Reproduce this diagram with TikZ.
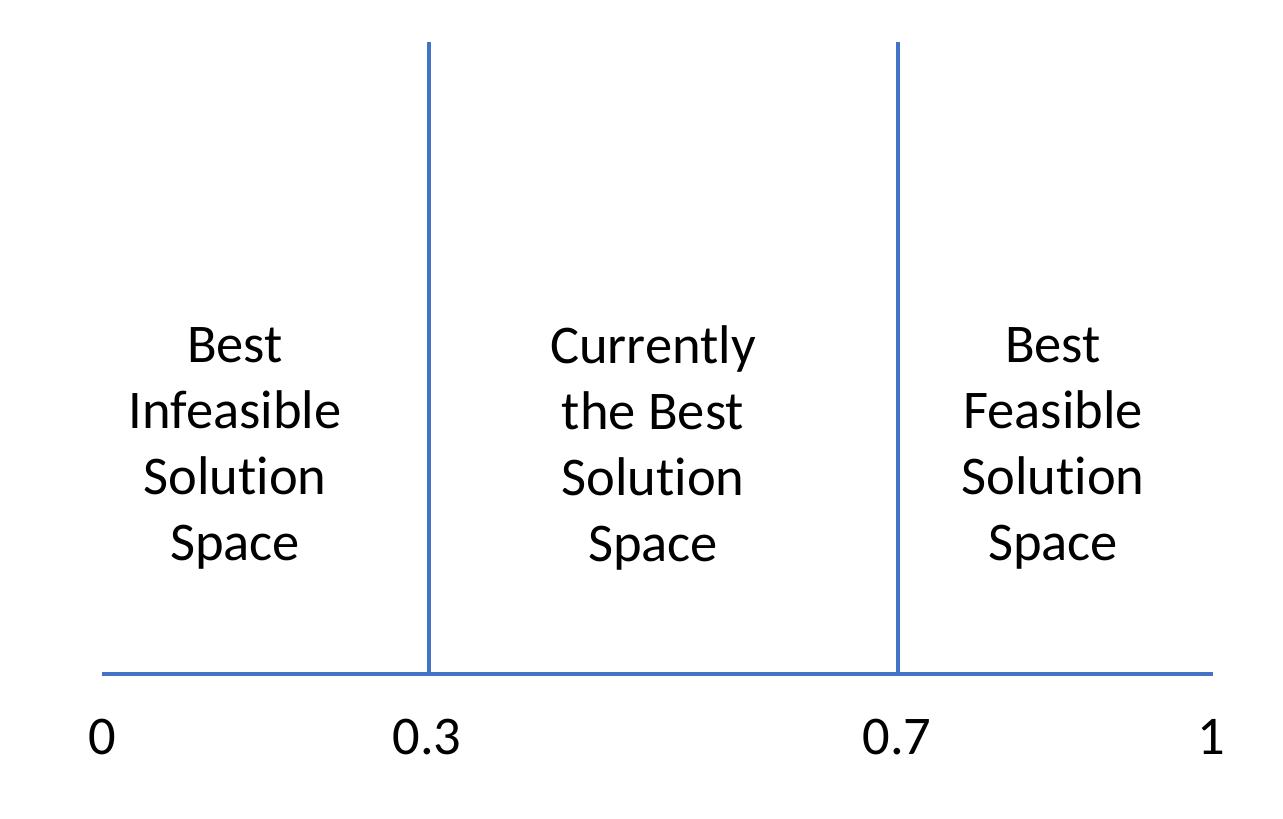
\documentclass[tikz,border=0pt]{standalone}
\usepackage{fontspec}
\setmainfont[Ligatures=NoCommon]{Carlito}
\definecolor{axisblue}{HTML}{4472C4}
\begin{document}
\begin{tikzpicture}[x=1pt,y=-1pt,
  axisline/.style={draw=axisblue,line width=4.5pt},
  region/.style={align=center,font=\fontsize{54.5}{66}\selectfont,inner sep=0pt},
  tick/.style={font=\fontsize{54.5}{62}\selectfont,inner sep=0pt}]
\useasboundingbox (0,0) rectangle (1283,819);
\coordinate (a0) at (102,674);
\coordinate (a1) at (1213,674);
\coordinate (p3) at (429,674);
\coordinate (p7) at (898,674);
\coordinate (t3) at (429,42);
\coordinate (t7) at (898,42);
\draw[axisline] (a0) -- (a1);
\draw[axisline] (p3) -- (t3);
\draw[axisline] (p7) -- (t7);
\node[region] (left) at (235,448) {Best\\Infeasible\\Solution\\Space};
\node[region] (mid) at (653,448) {Currently\\the Best\\Solution\\Space};
\node[region] (right) at (1053,448) {Best\\Feasible\\Solution\\Space};
\node[tick] (l0) at (102,737) {0};
\node[tick] (l3) at (427,737) {0.3};
\node[tick] (l7) at (897,737) {0.7};
\node[tick] (l1) at (1211,737) {1};
\end{tikzpicture}
\end{document}
